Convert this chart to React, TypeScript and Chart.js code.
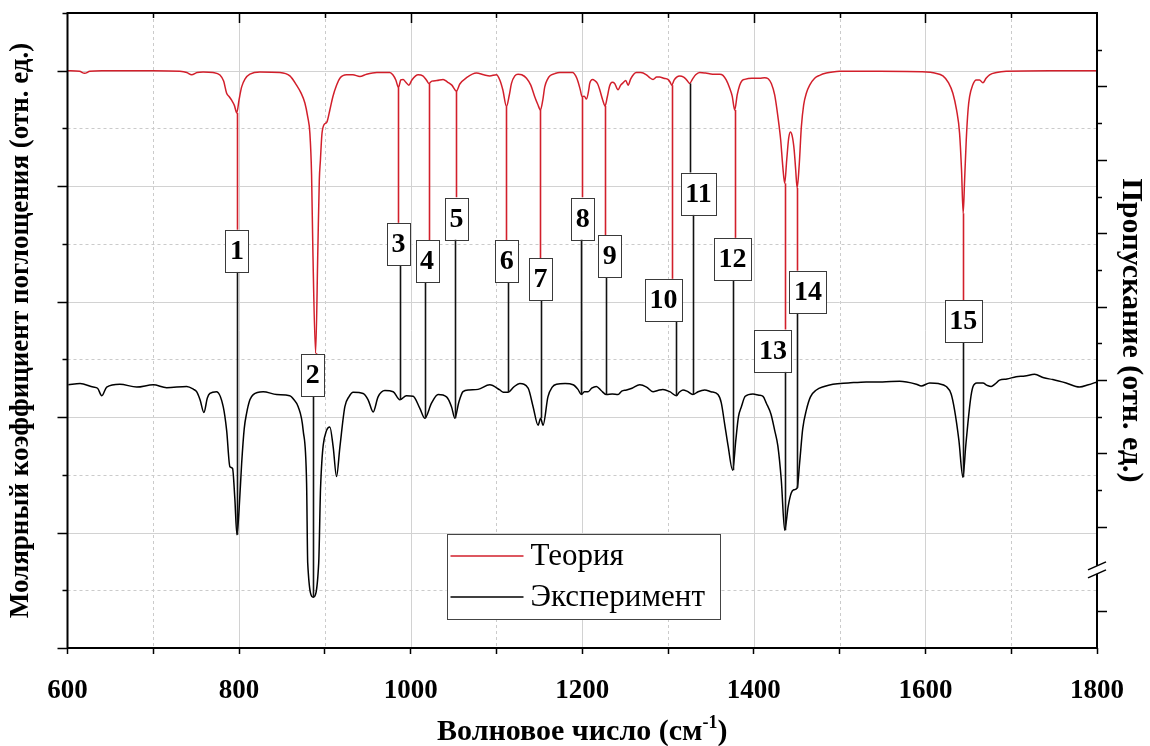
import React, { useEffect, useRef } from 'react';
import { Chart, registerables } from 'chart.js';

Chart.register(...registerables);

const SERIF = "'Liberation Serif', 'Times New Roman', serif";
const RED = '#d21f2b';

// Wavenumber axis (cm^-1)
const xMin = 600;
const xMax = 1800;
const xTickStep = 100;
const xLabelStep = 200;

// Left axis (absorption, rel. units)
const yMin = 0;
const yMax = 11;
// Right axis (transmission, rel. units) – broken axis
const y2Min = 0;
const y2Max = 17.3;
const y2MajorTicks = [1, 3.3, 5.3, 7.3, 9.3, 11.3, 13.3, 15.3];
const y2MinorTicks = [4.3, 6.3, 8.3, 10.3, 12.3, 14.3, 16.3];
const y2BreakAt = 2.13;

// Theory spectrum: [wavenumber, value]
const theorySpectrum: [number, number][] = [
  [600, 10.0], [614, 9.99], [620, 9.955], [626, 9.99], [640, 10.0], [700, 10.0], [731, 9.99], [739, 9.97],
  [744.7, 9.93], [751, 9.97], [758, 9.98], [769.5, 9.97], [777.7, 9.925], [782, 9.82], [785.5, 9.61],
  [788.5, 9.55], [791.3, 9.49], [794.5, 9.4], [797.3, 9.27], [800, 9.5], [803, 9.72], [807, 9.86],
  [812.6, 9.94], [824.3, 9.98], [847.6, 9.97], [859.2, 9.91], [867, 9.75], [872, 9.62], [876.7, 9.44],
  [880, 9.2], [882.5, 8.92], [884.5, 8.2], [886, 6.89], [889.2, 5.11], [891.8, 6.89], [893.5, 8.1],
  [894.8, 8.45], [896.5, 8.89], [898.8, 9.06], [902.3, 9.11], [905.8, 9.32], [909.3, 9.55], [913.6, 9.75],
  [917.5, 9.87], [925.3, 9.93], [932.6, 9.93], [940.8, 9.9], [948.6, 9.94], [960.6, 9.97], [975.7, 9.97],
  [979.2, 9.93], [982.7, 9.84], [985.8, 9.71], [988.5, 9.84], [991.2, 9.85], [994.4, 9.8], [997.9, 9.75],
  [1001.4, 9.84], [1008.7, 9.93], [1014.2, 9.91], [1018.3, 9.84], [1021.2, 9.78], [1024.7, 9.82],
  [1030.5, 9.83], [1037.8, 9.85], [1043.3, 9.8], [1048, 9.75], [1053.4, 9.65], [1057.3, 9.77],
  [1065.1, 9.88], [1076.7, 9.96], [1085.2, 9.93], [1092.2, 9.91], [1100, 9.93], [1103.9, 9.84],
  [1107.4, 9.67], [1111.7, 9.38], [1115, 9.58], [1117.5, 9.78], [1121.4, 9.91], [1125.2, 9.94],
  [1129.5, 9.93], [1135, 9.87], [1140, 9.75], [1144.6, 9.55], [1148.1, 9.42], [1151.3, 9.32], [1154, 9.49],
  [1156.3, 9.72], [1159.8, 9.86], [1162.1, 9.91], [1168, 9.95], [1173.8, 9.97], [1188.9, 9.97],
  [1192.4, 9.91], [1195.1, 9.81], [1197.7, 9.67], [1199.8, 9.55], [1202.3, 9.56], [1204.9, 9.51],
  [1207.6, 9.67], [1208.7, 9.78], [1212.2, 9.85], [1214.5, 9.83], [1218, 9.77], [1220.4, 9.67],
  [1223.9, 9.49], [1226.6, 9.39], [1229.1, 9.54], [1232, 9.74], [1234.9, 9.8], [1237.8, 9.78],
  [1241.7, 9.67], [1244.8, 9.75], [1247.5, 9.79], [1250.7, 9.83], [1253.4, 9.75], [1256.5, 9.86],
  [1260, 9.94], [1263.1, 9.97], [1268.2, 9.97], [1274.8, 9.93], [1278.6, 9.88], [1282.5, 9.85],
  [1286.8, 9.89], [1290.3, 9.89], [1294.9, 9.87], [1299.9, 9.85], [1302.5, 9.8], [1304.3, 9.75],
  [1307.2, 9.84], [1310.1, 9.89], [1313.6, 9.91], [1318.2, 9.89], [1321.7, 9.84], [1325.2, 9.78],
  [1328.7, 9.86], [1332.2, 9.93], [1336.9, 9.97], [1343.8, 9.96], [1352, 9.94], [1360.2, 9.94],
  [1364, 9.92], [1367.8, 9.84], [1371.8, 9.7], [1374.8, 9.56], [1377.7, 9.32], [1380.6, 9.58],
  [1383.5, 9.75], [1386.4, 9.83], [1389.3, 9.85], [1397.5, 9.87], [1406.8, 9.87], [1412.6, 9.88],
  [1416.7, 9.86], [1420.4, 9.78], [1424.3, 9.58], [1428.1, 9.2], [1431.3, 8.8], [1433.6, 8.37],
  [1436, 8.05], [1438.3, 8.45], [1440.6, 8.83], [1442.6, 8.94], [1444.7, 8.87], [1447, 8.63],
  [1448.8, 8.28], [1450.5, 7.97], [1452.9, 8.37], [1455.4, 9.03], [1458.1, 9.41], [1461.2, 9.61],
  [1465.1, 9.75], [1470.9, 9.87], [1476.7, 9.92], [1484.5, 9.96], [1491.8, 9.98], [1500, 9.99],
  [1546.6, 9.99], [1601, 9.98], [1610.7, 9.96], [1620.4, 9.91], [1627, 9.79], [1632, 9.61],
  [1636.3, 9.32], [1639.8, 8.92], [1642.1, 8.28], [1644, 7.53], [1645.7, 8.11], [1647.6, 8.8],
  [1649.7, 9.32], [1651.5, 9.55], [1655, 9.75], [1659.3, 9.84], [1663.1, 9.84], [1667, 9.79],
  [1670.7, 9.87], [1674.8, 9.93], [1683, 9.97], [1694.2, 9.99], [1744.6, 10.0], [1800, 10.0],
];

// Experimental spectrum: [wavenumber, value]
const experimentSpectrum: [number, number][] = [
  [601, 4.56], [614.6, 4.58], [630, 4.52], [635, 4.5], [640, 4.37], [645.7, 4.52], [661, 4.57],
  [680.6, 4.52], [700, 4.56], [715.6, 4.51], [739, 4.53], [747, 4.48], [750.5, 4.44], [754.5, 4.3],
  [759, 4.08], [763, 4.33], [766, 4.41], [773.8, 4.44], [781.5, 4.18], [785.5, 3.77], [789.3, 3.14],
  [792.4, 3.11], [795, 2.6], [797.5, 1.96], [800, 2.4], [803, 3.2], [806, 3.8], [808.8, 4.07],
  [812.6, 4.3], [816.5, 4.39], [828, 4.44], [843.7, 4.39], [859, 4.37], [864, 4.3], [868.9, 4.18],
  [874.7, 3.77], [878.7, 2.85], [880, 1.47], [886.4, 0.88], [892.8, 1.47], [895, 2.79], [902, 3.77],
  [905.8, 3.83], [909.7, 3.48], [913.6, 2.97], [917.5, 3.48], [923.3, 4.18], [928, 4.35], [933, 4.43],
  [944.6, 4.41], [950.4, 4.3], [956.3, 4.09], [962, 4.35], [970, 4.46], [979.6, 4.44], [987.4, 4.3],
  [995, 4.37], [1002.9, 4.36], [1010.7, 4.15], [1016.5, 3.98], [1024.3, 4.24], [1032, 4.39],
  [1041.8, 4.35], [1047.6, 4.18], [1051.5, 3.98], [1056, 4.25], [1061, 4.44], [1068, 4.47],
  [1078.6, 4.48], [1092.2, 4.56], [1103.9, 4.47], [1108, 4.43], [1113.5, 4.43], [1120, 4.52],
  [1127.2, 4.58], [1136.9, 4.5], [1142.7, 4.18], [1148.5, 3.86], [1151.5, 3.98], [1154.3, 3.86],
  [1160, 4.35], [1165, 4.52], [1170, 4.57], [1180, 4.58], [1189.3, 4.56], [1195, 4.48], [1199, 4.39],
  [1202.5, 4.44], [1206.8, 4.44], [1211, 4.5], [1216.5, 4.53], [1222, 4.46], [1228.2, 4.39],
  [1235, 4.4], [1241.7, 4.39], [1246, 4.45], [1251.5, 4.47], [1258, 4.5], [1267, 4.56], [1275, 4.52],
  [1282.5, 4.44], [1288, 4.46], [1294, 4.48], [1302, 4.44], [1309.7, 4.37], [1313, 4.43],
  [1317.4, 4.47], [1322, 4.45], [1329, 4.39], [1335, 4.44], [1342.7, 4.47], [1350, 4.44],
  [1358.2, 4.39], [1362, 4.25], [1366, 3.88], [1370, 3.5], [1375.3, 3.08], [1379, 3.6], [1382, 4.0],
  [1385.5, 4.18], [1390, 4.36], [1399, 4.4], [1406, 4.38], [1410.7, 4.36], [1414.6, 4.24],
  [1420, 4.05], [1424.3, 3.77], [1428, 3.5], [1432, 2.91], [1436, 2.04], [1440, 2.45], [1443.5, 2.68],
  [1446.5, 2.74], [1450.5, 2.77], [1453.4, 3.21], [1457, 3.8], [1461.2, 4.12], [1466, 4.35],
  [1472.9, 4.47], [1482, 4.53], [1492.2, 4.57], [1510, 4.59], [1531, 4.61], [1550, 4.61],
  [1570, 4.62], [1589.4, 4.57], [1595.2, 4.54], [1605, 4.59], [1615, 4.58], [1624.3, 4.53],
  [1630, 4.4], [1634, 4.12], [1639, 3.6], [1643.7, 2.96], [1647, 3.5], [1649.5, 3.89], [1652.5, 4.3],
  [1655.3, 4.52], [1660, 4.59], [1667, 4.59], [1672, 4.55], [1676.7, 4.53], [1681, 4.57],
  [1686.4, 4.64], [1695, 4.66], [1705.8, 4.7], [1716, 4.71], [1727.2, 4.74], [1738, 4.68],
  [1748.5, 4.65], [1764, 4.59], [1779.6, 4.52], [1790, 4.56], [1800, 4.61],
];

// Peak assignments
const peakNumbers = ['1', '2', '3', '4', '5', '6', '7', '8', '9', '10', '11', '12', '13', '14', '15'];
const theoryPeakWn = [797.3, 889.2, 985.8, 1021.2, 1053.4, 1111.7, 1151.3, 1199.8, 1226.6, 1304.3, 1325.2, 1377.7, 1436, 1450.5, 1644];
const theoryPeakVal = [9.27, 5.11, 9.71, 9.78, 9.65, 9.38, 9.32, 9.55, 9.39, 9.75, 9.78, 9.32, 8.05, 7.97, 7.53];
const expPeakWn = [797.5, 886.4, 987.4, 1016.5, 1051.5, 1113.5, 1151.5, 1199, 1228.2, 1309.7, 1329, 1375.3, 1436, 1450.5, 1643.7];
const expPeakVal = [1.96, 0.88, 4.3, 3.98, 3.98, 4.43, 3.98, 4.39, 4.39, 4.37, 4.39, 3.08, 2.04, 2.77, 2.96];
const labelWn = [797.5, 886.0, 985.9, 1019.1, 1053.4, 1112.0, 1151.4, 1200.6, 1232.0, 1294.6, 1335.5, 1375.1, 1422.3, 1463.1, 1644.2];
const labelVal = [6.88, 4.73, 7.0, 6.7, 7.44, 6.7, 6.39, 7.44, 6.79, 6.03, 7.87, 6.74, 5.15, 6.17, 5.66];
const darkUpperLink = ['11'];

const seriesNames = ['Теория', 'Эксперимент'];
const xTitleMain = 'Волновое число (см';
const xTitleSup = '-1';
const xTitleEnd = ')';
const yTitle = 'Молярный коэффициент поглощения (отн. ед.)';
const y2Title = 'Пропускание (отн. ед.)';

function range(a: number, b: number, s: number) {
  const out: number[] = [];
  for (let v = a; v <= b + 1e-9; v += s) out.push(v);
  return out;
}

const framePlugin = {
  id: 'spectrumFrame',
  beforeDatasetsDraw(chart: any) {
    const { ctx, chartArea: a, scales } = chart;
    const x = scales.x, y = scales.y;
    ctx.save();
    ctx.lineWidth = 1;
    range(xMin + xTickStep, xMax - xTickStep, xTickStep).forEach((v) => {
      const px = Math.round(x.getPixelForValue(v)) + 0.5;
      const major = v % xLabelStep === 0;
      ctx.strokeStyle = major ? '#d2d2d2' : '#cbcbcb';
      ctx.setLineDash(major ? [] : [3, 3]);
      ctx.beginPath(); ctx.moveTo(px, a.top); ctx.lineTo(px, a.bottom); ctx.stroke();
    });
    range(yMin + 1, yMax - 1, 1).forEach((v) => {
      const py = Math.round(y.getPixelForValue(v)) + 0.5;
      const major = v % 2 === 0;
      ctx.strokeStyle = major ? '#d2d2d2' : '#cbcbcb';
      ctx.setLineDash(major ? [] : [3, 3]);
      ctx.beginPath(); ctx.moveTo(a.left, py); ctx.lineTo(a.right, py); ctx.stroke();
    });
    ctx.restore();
  },
  afterDatasetsDraw(chart: any) {
    const { ctx, scales } = chart;
    const x = scales.x, y = scales.y;
    ctx.save();
    ctx.font = `bold 28px ${SERIF}`;
    ctx.textAlign = 'center';
    ctx.textBaseline = 'middle';
    const boxH = 42;
    peakNumbers.forEach((num, i) => {
      const cx = x.getPixelForValue(labelWn[i]);
      const cy = y.getPixelForValue(labelVal[i]);
      const w = ctx.measureText(num).width + 9;
      const top = cy - boxH / 2;
      const bottom = cy + boxH / 2;
      ctx.lineWidth = 1.6;
      const tx = Math.round(x.getPixelForValue(theoryPeakWn[i])) + 0.5;
      const ty = y.getPixelForValue(theoryPeakVal[i]);
      ctx.strokeStyle = darkUpperLink.includes(num) ? '#111' : RED;
      ctx.beginPath(); ctx.moveTo(tx, ty); ctx.lineTo(tx, top); ctx.stroke();
      const ex = Math.round(x.getPixelForValue(expPeakWn[i])) + 0.5;
      const ey = y.getPixelForValue(expPeakVal[i]);
      ctx.strokeStyle = '#111';
      ctx.beginPath(); ctx.moveTo(ex, bottom); ctx.lineTo(ex, ey); ctx.stroke();
      ctx.fillStyle = '#fff';
      ctx.fillRect(cx - w / 2, top, w, boxH);
      ctx.strokeStyle = '#3a3a3a';
      ctx.lineWidth = 1;
      ctx.strokeRect(Math.round(cx - w / 2) + 0.5, Math.round(top) + 0.5, Math.round(w), boxH);
      ctx.fillStyle = '#000';
      ctx.fillText(num, cx, cy + 1);
    });
    ctx.restore();
  },
  afterDraw(chart: any) {
    const { ctx, chartArea: a, scales } = chart;
    const x = scales.x, y = scales.y, y2 = scales.y2;
    ctx.save();
    ctx.strokeStyle = '#000';
    ctx.lineWidth = 1.5;
    range(xMin + xTickStep, xMax - xTickStep, xTickStep).forEach((v) => {
      const px = Math.round(x.getPixelForValue(v)) + 0.5;
      const len = v % xLabelStep === 0 ? 10 : 5;
      ctx.beginPath(); ctx.moveTo(px, a.top); ctx.lineTo(px, a.top + len); ctx.stroke();
    });
    range(yMin, yMax, 1).forEach((v) => {
      const py = Math.round(y.getPixelForValue(v)) + 0.5;
      const len = v % 2 === 0 ? 10 : 5;
      ctx.beginPath(); ctx.moveTo(a.left, py); ctx.lineTo(a.left - len, py); ctx.stroke();
    });
    y2MajorTicks.forEach((v) => {
      const py = Math.round(y2.getPixelForValue(v)) + 0.5;
      ctx.beginPath(); ctx.moveTo(a.right, py); ctx.lineTo(a.right + 10, py); ctx.stroke();
    });
    y2MinorTicks.forEach((v) => {
      const py = Math.round(y2.getPixelForValue(v)) + 0.5;
      ctx.beginPath(); ctx.moveTo(a.right, py); ctx.lineTo(a.right + 5, py); ctx.stroke();
    });
    ctx.lineWidth = 2;
    ctx.strokeRect(a.left, a.top, a.right - a.left, a.bottom - a.top);
    const by = y2.getPixelForValue(y2BreakAt);
    ctx.fillStyle = '#fff';
    ctx.fillRect(a.right - 2, by - 4, 4, 8);
    ctx.lineWidth = 1.5;
    [-4, 4].forEach((d) => {
      ctx.beginPath();
      ctx.moveTo(a.right - 9, by + d + 4);
      ctx.lineTo(a.right + 9, by + d - 4);
      ctx.stroke();
    });

    // legend
    const lx = a.left + 379, ly = a.top + 521, lw = 273, lh = 85;
    ctx.fillStyle = '#fff';
    ctx.fillRect(lx, ly, lw, lh);
    ctx.strokeStyle = '#444';
    ctx.lineWidth = 1;
    ctx.strokeRect(Math.round(lx) + 0.5, Math.round(ly) + 0.5, lw, lh);
    const rows = [ly + 22, ly + 63];
    const colors = [RED, '#000'];
    ctx.font = `31px ${SERIF}`;
    ctx.textAlign = 'left';
    ctx.textBaseline = 'middle';
    seriesNames.forEach((name, i) => {
      ctx.strokeStyle = colors[i];
      ctx.lineWidth = 1.6;
      ctx.beginPath(); ctx.moveTo(lx + 4, rows[i]); ctx.lineTo(lx + 77, rows[i]); ctx.stroke();
      ctx.fillStyle = '#000';
      ctx.fillText(name, lx + 84, rows[i] + 1);
    });

    // x-axis title with superscript
    const mainFont = `bold 30px ${SERIF}`;
    const supFont = `bold 18px ${SERIF}`;
    ctx.font = mainFont;
    const w1 = ctx.measureText(xTitleMain).width;
    const w3 = ctx.measureText(xTitleEnd).width;
    ctx.font = supFont;
    const w2 = ctx.measureText(xTitleSup).width;
    const total = w1 + w2 + w3;
    const cx = (a.left + a.right) / 2;
    const base = a.bottom + 92;
    let sx = cx - total / 2;
    ctx.textBaseline = 'alphabetic';
    ctx.fillStyle = '#000';
    ctx.font = mainFont;
    ctx.fillText(xTitleMain, sx, base);
    sx += w1;
    ctx.font = supFont;
    ctx.fillText(xTitleSup, sx, base - 12);
    sx += w2;
    ctx.font = mainFont;
    ctx.fillText(xTitleEnd, sx, base);
    ctx.restore();
  },
};

export default function App() {
  const canvasRef = useRef<HTMLCanvasElement | null>(null);

  useEffect(() => {
    document.body.style.margin = '0';
    document.body.style.overflow = 'hidden';
    if (!canvasRef.current) return;
    const chart = new Chart(canvasRef.current, {
      type: 'line',
      data: {
        datasets: [
          {
            label: seriesNames[0],
            data: theorySpectrum.map(([wx, wy]) => ({ x: wx, y: wy })),
            borderColor: RED,
            borderWidth: 1.5,
            pointRadius: 0,
            cubicInterpolationMode: 'monotone',
            yAxisID: 'y',
          },
          {
            label: seriesNames[1],
            data: experimentSpectrum.map(([wx, wy]) => ({ x: wx, y: wy })),
            borderColor: '#000',
            borderWidth: 1.5,
            pointRadius: 0,
            cubicInterpolationMode: 'monotone',
            yAxisID: 'y',
          },
        ],
      },
      options: {
        animation: false,
        responsive: true,
        maintainAspectRatio: false,
        layout: { padding: { top: 13, left: 0, right: 0, bottom: 0 } },
        plugins: { legend: { display: false }, tooltip: { enabled: false } },
        scales: {
          x: {
            type: 'linear',
            min: xMin,
            max: xMax,
            position: 'bottom',
            ticks: {
              stepSize: xTickStep,
              autoSkip: false,
              maxRotation: 0,
              padding: 21,
              color: '#000',
              font: { family: SERIF, size: 27, weight: 'bold' },
              callback: (v: any) => (Number(v) % xLabelStep === 0 ? String(v) : ''),
            },
            grid: { drawOnChartArea: false, drawTicks: true, tickLength: 6, tickColor: '#000', tickWidth: 1.5 },
            border: { display: false },
            afterFit: (s: any) => { s.height = 98; },
          },
          y: {
            type: 'linear',
            min: yMin,
            max: yMax,
            position: 'left',
            ticks: { display: false },
            grid: { display: false },
            border: { display: false },
            title: { display: true, text: yTitle, color: '#000', font: { family: SERIF, size: 27, weight: 'bold', lineHeight: 1 }, padding: 8 },
            afterFit: (s: any) => { s.width = 67.5; },
          },
          y2: {
            type: 'linear',
            min: y2Min,
            max: y2Max,
            position: 'right',
            ticks: { display: false },
            grid: { display: false },
            border: { display: false },
            title: { display: true, text: y2Title, color: '#000', font: { family: SERIF, size: 30, weight: 'bold', lineHeight: 1 }, padding: 4 },
            afterFit: (s: any) => { s.width = 53; },
          },
        },
      } as any,
      plugins: [framePlugin],
    });
    return () => chart.destroy();
  }, []);

  return (
    <div style={{ position: 'relative', width: 1150, height: 746 }}>
      <canvas ref={canvasRef} />
    </div>
  );
}
